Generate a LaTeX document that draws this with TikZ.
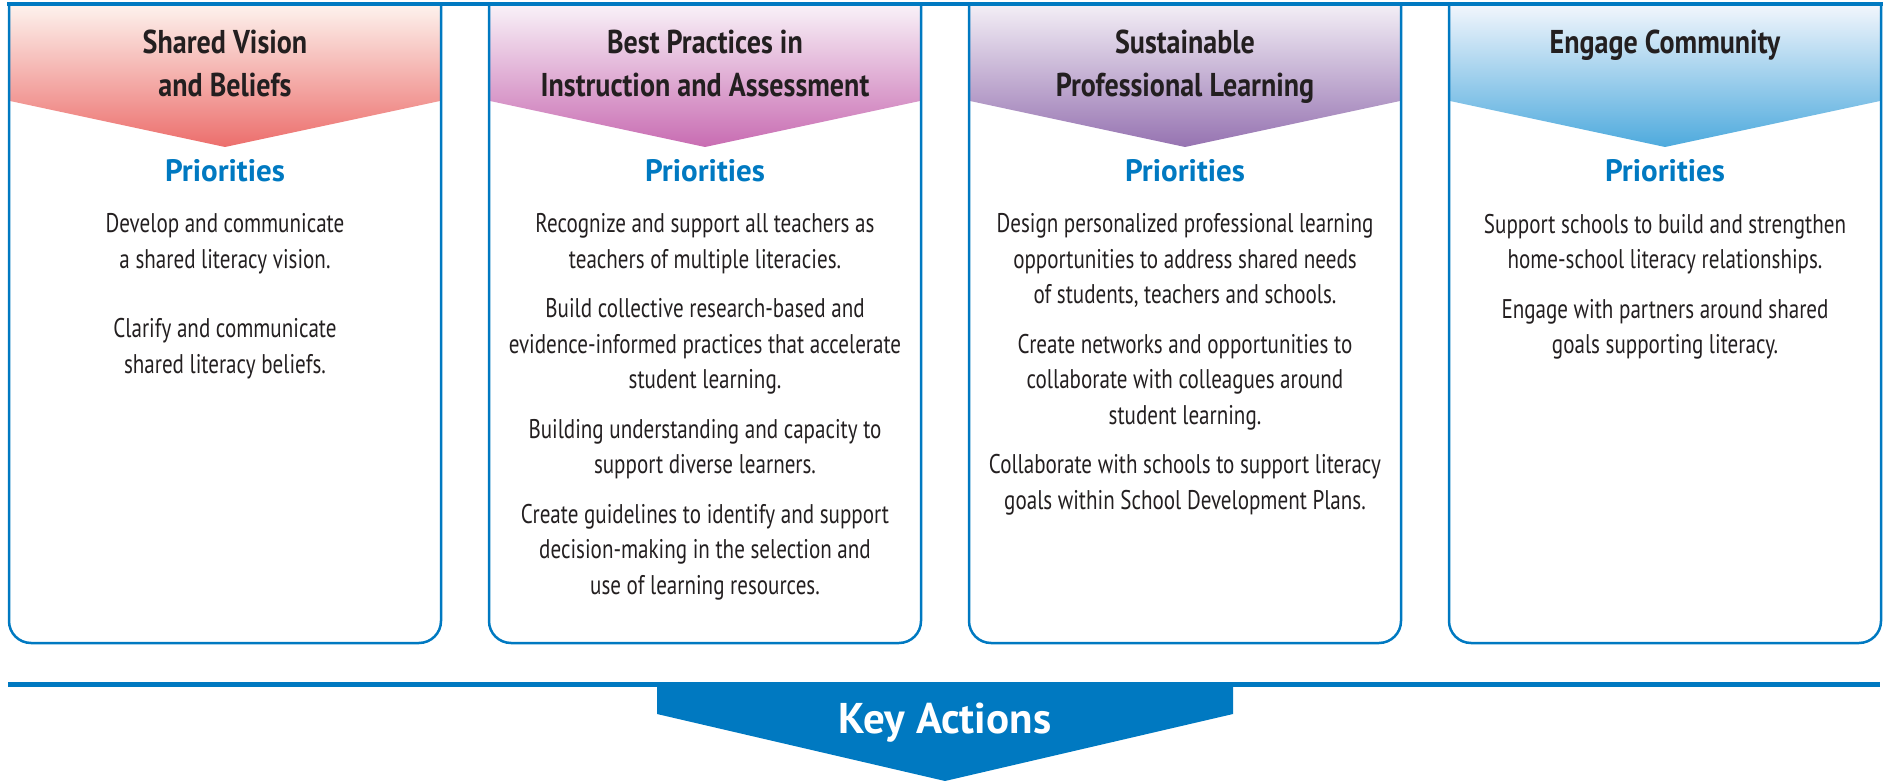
\documentclass[tikz,border=0pt]{standalone}
\usepackage{fontspec}
\setmainfont{PT Sans}
\newfontfamily\condfont[FakeStretch=0.78]{PT Sans}
\newfontfamily\headfont[FakeStretch=0.85]{PT Sans}
\usetikzlibrary{positioning}
\definecolor{kblue}{HTML}{0079C1}
\definecolor{ktext}{HTML}{231F20}
\definecolor{redtop}{HTML}{FDF1EC}
\definecolor{redbot}{HTML}{EC6E6C}
\definecolor{pinktop}{HTML}{F8F0F7}
\definecolor{pinkbot}{HTML}{C86CB2}
\definecolor{purptop}{HTML}{F2EDF5}
\definecolor{purpbot}{HTML}{9673B1}
\definecolor{skytop}{HTML}{F0F5FC}
\definecolor{skybot}{HTML}{4EAADD}
\tikzset{
  boxline/.style = {draw=kblue, line width=2.5pt, rounded corners=22pt},
  title/.style = {align=center, inner sep=0pt, anchor=north, text=ktext,
    font={\headfont\bfseries\fontsize{33}{43}\selectfont}},
  prio/.style = {inner sep=0pt, anchor=base, text=kblue,
    font={\bfseries\fontsize{31}{37}\selectfont}},
  body/.style = {align=center, inner sep=0pt, anchor=north, text=ktext,
    font={\condfont\fontsize{27}{35.5}\selectfont}},
}
\begin{document}
\begin{tikzpicture}[x=1pt, y=-1pt]
\useasboundingbox (0,0) rectangle (1885,781);
\shade [top color=redtop, bottom color=redbot] (10,6) -- (440,6) -- (440,101) -- (225,147) -- (10,101) -- cycle;
\shade [top color=pinktop, bottom color=pinkbot] (490,6) -- (920,6) -- (920,101) -- (705,147) -- (490,101) -- cycle;
\shade [top color=purptop, bottom color=purpbot] (970,6) -- (1400,6) -- (1400,101) -- (1185,147) -- (970,101) -- cycle;
\shade [top color=skytop, bottom color=skybot] (1450,6) -- (1880,6) -- (1880,101) -- (1665,147) -- (1450,101) -- cycle;
\draw [boxline] (9,4) -- (9,643) -- (441,643) -- (441,4);
\draw [boxline] (489,4) -- (489,643) -- (921,643) -- (921,4);
\draw [boxline] (969,4) -- (969,643) -- (1401,643) -- (1401,4);
\draw [boxline] (1449,4) -- (1449,643) -- (1881,643) -- (1881,4);
\draw [kblue, line width=4.5pt] (7,4) -- (1883,4);
\node [title] (t1) at (225,30) {Shared Vision\\and Beliefs};
\node [title] (t2) at (705,30) {Best Practices in\\Instruction and Assessment};
\node [title] (t3) at (1185,30) {Sustainable\\Professional Learning};
\node [title] (t4) at (1665,30) {Engage Community};
\node [prio] (p1) at (225,182) {Priorities};
\node [prio] (p2) at (705,182) {Priorities};
\node [prio] (p3) at (1185,182) {Priorities};
\node [prio] (p4) at (1665,182) {Priorities};
\node [body, below=31pt of p1] (b1) {Develop and communicate\\a shared literacy vision.\\[34pt]Clarify and communicate\\shared literacy beliefs.};
\node [body, below=31pt of p2] (b2) {Recognize and support all teachers as\\teachers of multiple literacies.\\[14pt]Build collective research-based and\\evidence-informed practices that accelerate\\student learning.\\[14pt]Building understanding and capacity to\\support diverse learners.\\[14pt]Create guidelines to identify and support\\decision-making in the selection and\\use of learning resources.};
\node [body, below=31pt of p3] (b3) {Design personalized professional learning\\opportunities to address shared needs\\of students, teachers and schools.\\[14pt]Create networks and opportunities to\\collaborate with colleagues around\\student learning.\\[14pt]Collaborate with schools to support literacy\\goals within School Development Plans.};
\node [body, below=31pt of p4] (b4) {Support schools to build and strengthen\\home-school literacy relationships.\\[14pt]Engage with partners around shared\\goals supporting literacy.};
\draw [kblue, line width=5pt] (8,684) -- (1880,684);
\fill [kblue] (657,684) -- (1233,684) -- (1233,714) -- (945,781) -- (657,714) -- cycle;
\node [anchor=base, inner sep=0pt, white, font={\bfseries\fontsize{43}{48}\selectfont}] (ka) at (945,733) {Key Actions};
\end{tikzpicture}
\end{document}
